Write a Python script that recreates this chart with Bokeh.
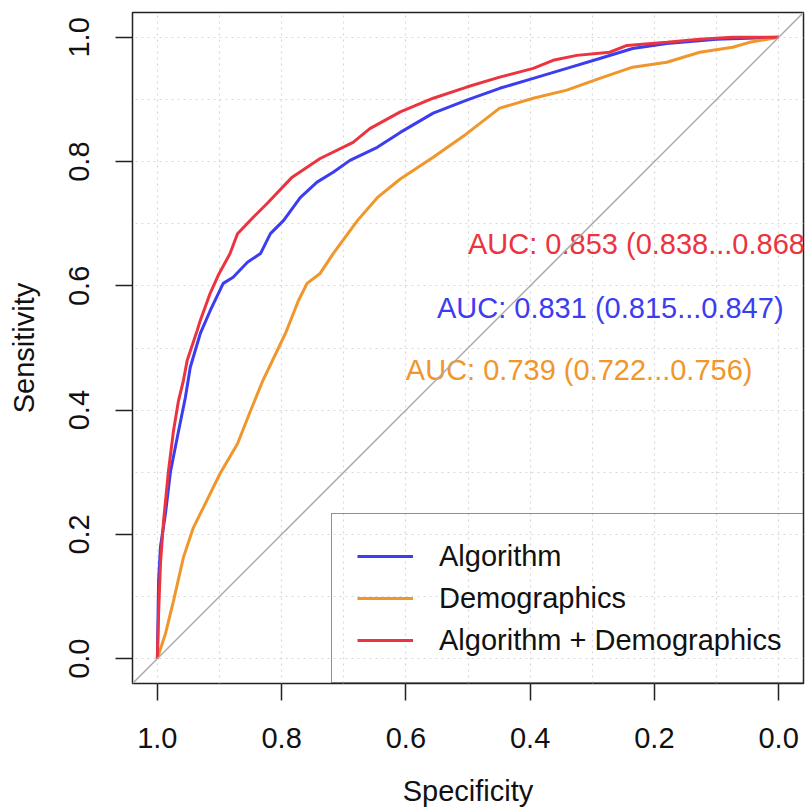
from bokeh.plotting import figure
from bokeh.models import (Range1d, FixedTicker, PrintfTickFormatter, Slope,
                          Legend, LegendItem, ColumnDataSource)
from bokeh.embed import file_html
from bokeh.resources import INLINE
from bokeh.core.properties import value

# ---- data ----
alg_spec = [1.0, 0.998, 0.995, 0.987, 0.979, 0.968, 0.955, 0.947, 0.931, 0.915, 0.894,
            0.878, 0.855, 0.834, 0.818, 0.797, 0.770, 0.743, 0.717, 0.690, 0.646, 0.609,
            0.556, 0.502, 0.449, 0.395, 0.341, 0.288, 0.235, 0.180, 0.100, 0.0]
alg_sens = [0.0, 0.126, 0.180, 0.233, 0.300, 0.356, 0.420, 0.469, 0.523, 0.560, 0.604,
            0.614, 0.638, 0.652, 0.684, 0.705, 0.742, 0.767, 0.783, 0.802, 0.823, 0.847,
            0.878, 0.899, 0.918, 0.934, 0.950, 0.966, 0.982, 0.990, 0.997, 1.0]

dem_spec = [1.0, 0.987, 0.974, 0.958, 0.942, 0.926, 0.899, 0.871, 0.850, 0.830, 0.807,
            0.794, 0.773, 0.759, 0.738, 0.717, 0.678, 0.646, 0.609, 0.556, 0.502, 0.449,
            0.395, 0.341, 0.288, 0.235, 0.180, 0.127, 0.074, 0.047, 0.0]
dem_sens = [0.0, 0.040, 0.093, 0.163, 0.211, 0.243, 0.298, 0.346, 0.399, 0.448, 0.496,
            0.523, 0.576, 0.604, 0.620, 0.652, 0.705, 0.742, 0.772, 0.807, 0.845, 0.886,
            0.902, 0.915, 0.934, 0.952, 0.960, 0.976, 0.984, 0.992, 1.0]

both_spec = [1.0, 0.998, 0.995, 0.990, 0.982, 0.974, 0.966, 0.958, 0.952, 0.936, 0.931,
             0.915, 0.902, 0.883, 0.871, 0.846, 0.823, 0.783, 0.738, 0.685, 0.658, 0.609,
             0.556, 0.502, 0.449, 0.395, 0.363, 0.325, 0.272, 0.244, 0.180, 0.127, 0.074, 0.0]
both_sens = [0.0, 0.072, 0.153, 0.222, 0.303, 0.367, 0.415, 0.448, 0.480, 0.528, 0.544,
             0.588, 0.617, 0.652, 0.684, 0.710, 0.733, 0.775, 0.805, 0.831, 0.853, 0.880,
             0.902, 0.920, 0.936, 0.950, 0.963, 0.971, 0.976, 0.987, 0.992, 0.997, 1.0, 1.0]

series_names = ["Algorithm", "Demographics", "Algorithm + Demographics"]
series_colors = ["#3c3cf0", "#f0962a", "#eb3440"]

auc_labels = ["AUC: 0.853 (0.838...0.868)", "AUC: 0.831 (0.815...0.847)",
              "AUC: 0.739 (0.722...0.756)"]
auc_colors = ["#eb3440", "#3c3cf0", "#f0962a"]
auc_x = [0.50, 0.55, 0.60]
auc_y = [0.668, 0.565, 0.464]

tick_values = [0.0, 0.2, 0.4, 0.6, 0.8, 1.0]
grid_values = [0.0, 0.1, 0.2, 0.3, 0.4, 0.5, 0.6, 0.7, 0.8, 0.9, 1.0]

FONT = "Liberation Sans"
FS = "29px"

p = figure(width=805, height=810, output_backend="svg", toolbar_location=None,
           x_range=Range1d(1.04, -0.04), y_range=Range1d(-0.04, 1.04),
           min_border_left=132, min_border_right=2, min_border_top=12,
           min_border_bottom=127)
p.background_fill_color = "white"
p.border_fill_color = "white"
p.outline_line_color = "#222222"
p.outline_line_width = 1.5

for ax in (p.xaxis[0], p.yaxis[0]):
    ax.ticker = FixedTicker(ticks=tick_values)
    ax.formatter = PrintfTickFormatter(format="%.1f")
    ax.major_tick_out = 17
    ax.major_tick_in = 0
    ax.minor_tick_line_color = None
    ax.axis_line_color = None
    ax.major_tick_line_color = "#222222"
    ax.major_tick_line_width = 1.5
    ax.major_label_text_font = FONT
    ax.major_label_text_font_size = FS
    ax.major_label_text_color = "#111111"
    ax.axis_label_text_font = FONT
    ax.axis_label_text_font_size = FS
    ax.axis_label_text_font_style = "normal"
    ax.axis_label_text_color = "#111111"

p.xaxis.axis_label = "Specificity"
p.yaxis.axis_label = "Sensitivity"
p.xaxis.major_label_standoff = 27
p.xaxis.axis_label_standoff = 24
p.yaxis.major_label_standoff = 26
p.yaxis.axis_label_standoff = 27
p.yaxis.major_label_orientation = "vertical"

for g in (p.xgrid[0], p.ygrid[0]):
    g.ticker = FixedTicker(ticks=grid_values)
    g.grid_line_color = "#d8d8d8"
    g.grid_line_dash = "2 4"
    g.grid_line_width = 1.2

# diagonal reference line
p.add_layout(Slope(gradient=-1, y_intercept=1, line_color="#aaaaaa", line_width=1.5))

r_alg = p.line(alg_spec, alg_sens, line_color=series_colors[0], line_width=3)
r_dem = p.line(dem_spec, dem_sens, line_color=series_colors[1], line_width=3)
r_both = p.line(both_spec, both_sens, line_color=series_colors[2], line_width=3)

src = ColumnDataSource(dict(x=auc_x, y=auc_y, t=auc_labels, c=auc_colors))
p.text(x="x", y="y", text="t", text_color="c", source=src,
       text_font=value(FONT), text_font_size=FS,
       text_align="left", text_baseline="alphabetic")

legend = Legend(items=[LegendItem(label=series_names[0], renderers=[r_alg]),
                       LegendItem(label=series_names[1], renderers=[r_dem]),
                       LegendItem(label=series_names[2], renderers=[r_both])],
                location=(199, 0), orientation="vertical")
legend.margin = 0
legend.padding = 25
legend.spacing = 8
legend.glyph_width = 56
legend.glyph_height = 34
legend.label_height = 34
legend.label_standoff = 26
legend.label_text_font = FONT
legend.label_text_font_size = FS
legend.label_text_color = "#111111"
legend.border_line_color = "#222222"
legend.border_line_width = 1.5
legend.background_fill_alpha = 0
p.add_layout(legend, "center")

open("out.html", "w").write(file_html(p, INLINE))
